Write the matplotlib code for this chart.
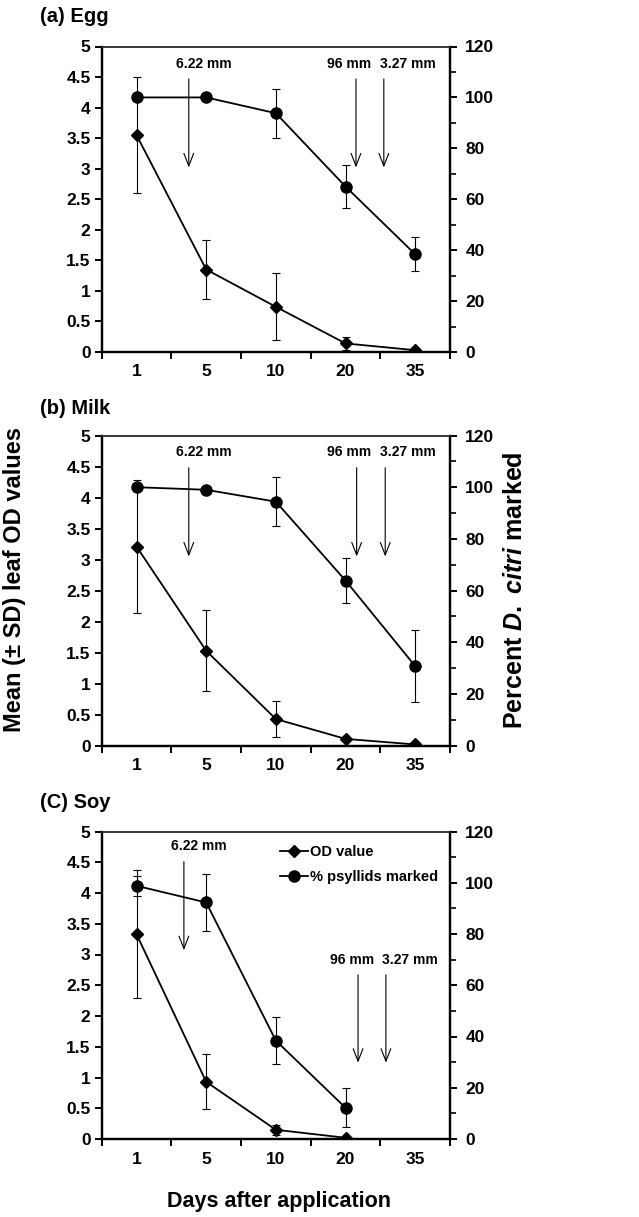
import numpy as np
import matplotlib
matplotlib.use("Agg")
import matplotlib.pyplot as plt
from matplotlib.ticker import MultipleLocator, FixedLocator

plt.rcParams['font.family'] = ['Liberation Sans', 'DejaVu Sans']
plt.rcParams['font.weight'] = 'bold'
plt.rcParams['mathtext.fontset'] = 'custom'
plt.rcParams['mathtext.it'] = 'Liberation Sans:bold:italic'
plt.rcParams['mathtext.rm'] = 'Liberation Sans:bold'
plt.rcParams['mathtext.bf'] = 'Liberation Sans:bold'

# ---------------- data ----------------
days = ['1', '5', '10', '20', '35']

egg_od = [3.55, 1.35, 0.74, 0.14, 0.03]
egg_od_sd = [0.95, 0.49, 0.55, 0.10, 0.0]
egg_pct = [100, 100, 93.8, 65.0, 38.4]
egg_pct_sd = [0, 0, 9.6, 8.4, 6.6]

milk_od = [3.21, 1.53, 0.43, 0.11, 0.02]
milk_od_sd = [1.07, 0.65, 0.29, 0.03, 0.0]
milk_pct = [100, 99.0, 94.4, 63.9, 30.8]
milk_pct_sd = [0, 0, 9.5, 8.6, 13.8]

soy_od = [3.33, 0.93, 0.15, 0.02, np.nan]
soy_od_sd = [1.04, 0.45, 0.08, 0.0, np.nan]
soy_pct = [98.8, 92.3, 38.4, 12.2, np.nan]
soy_pct_sd = [3.9, 11.1, 9.2, 7.6, np.nan]

panel_titles = ['(a) Egg', '(b) Milk', '(C) Soy']
arrow_labels = ['6.22 mm', '96 mm', '3.27 mm']

panels = [
    (egg_od, egg_od_sd, egg_pct, egg_pct_sd),
    (milk_od, milk_od_sd, milk_pct, milk_pct_sd),
    (soy_od, soy_od_sd, soy_pct, soy_pct_sd),
]

# layout (figure fractions)
W, H = 639, 1217
fig = plt.figure(figsize=(W / 100, H / 100), dpi=100)
left = 101.7 / W
width = 348.3 / W
rects = [  # (top_px, bottom_px)
    (46.5, 352.0),
    (435.5, 745.7),
    (831.5, 1139.0),
]
title_y = [17, 408, 802]

# arrow layout per panel: (x, label_x, label_y, y_top, y_bottom)
arrow_layout = [
    [(1.75, 1.97, 4.72, 4.47, 3.02), (4.15, 4.05, 4.72, 4.47, 3.02), (4.55, 4.90, 4.72, 4.47, 3.02)],
    [(1.75, 1.97, 4.73, 4.48, 3.05), (4.16, 4.05, 4.73, 4.48, 3.05), (4.57, 4.90, 4.73, 4.48, 3.05)],
    [(1.68, 1.90, 4.76, 4.51, 3.07), (4.18, 4.09, 2.91, 2.67, 1.24), (4.58, 4.93, 2.91, 2.67, 1.24)],
]

x = np.arange(1, len(days) + 1)
tick_fs = 12.5
lw = 1.3
ms_d = 6
ms_o = 8

for i, (od, od_sd, pct, pct_sd) in enumerate(panels):
    top_px, bot_px = rects[i]
    ax = fig.add_axes([left, 1 - bot_px / H, width, (bot_px - top_px) / H])
    ax2 = ax.twinx()

    ax.errorbar(x, od, yerr=od_sd, color='black', lw=lw, marker='D', ms=ms_d,
                ecolor='black', elinewidth=0.8, capsize=3, capthick=0.8,
                label='OD value', zorder=3)
    ax2.errorbar(x, pct, yerr=pct_sd, color='black', lw=lw, marker='o', ms=ms_o,
                 ecolor='black', elinewidth=0.8, capsize=3, capthick=0.8,
                 label='% psyllids marked', zorder=3)

    ax.set_xlim(0.5, len(days) + 0.5)
    ax.set_ylim(0, 5)
    ax2.set_ylim(0, 120)

    ax.set_xticks(x)
    ax.set_xticklabels(days, fontsize=tick_fs, fontweight='bold')
    ax.xaxis.set_minor_locator(FixedLocator(np.arange(0.5, len(days) + 1, 1.0)))
    ax.tick_params(axis='x', which='major', length=0, pad=9)
    ax.tick_params(axis='x', which='minor', length=5, width=1.4, direction='out')

    ax.yaxis.set_major_locator(MultipleLocator(0.5))
    ax.set_yticklabels([f'{v:g}' for v in ax.get_yticks()], fontsize=tick_fs, fontweight='bold')
    ax.tick_params(axis='y', which='major', length=5, width=1.4, direction='out', pad=3)

    ax2.yaxis.set_major_locator(MultipleLocator(20))
    ax2.yaxis.set_minor_locator(MultipleLocator(10))
    ax2.set_yticklabels([f'{v:g}' for v in ax2.get_yticks()], fontsize=tick_fs, fontweight='bold')
    ax2.tick_params(axis='y', which='major', length=5, width=1.4, direction='out', pad=6)
    ax2.tick_params(axis='y', which='minor', length=4, width=1.2, direction='out')

    for a in (ax, ax2):
        for s in ('left', 'bottom', 'right'):
            a.spines[s].set_linewidth(1.6)
            a.spines[s].set_color('black')
        a.spines['top'].set_linewidth(1.1)
        a.spines['top'].set_color('#333333')

    for (ax_x, lx, ly, yt, yb), lab in zip(arrow_layout[i], arrow_labels):
        ax.annotate('', xy=(ax_x, yb), xytext=(ax_x, yt),
                    arrowprops=dict(arrowstyle='->,head_length=0.9,head_width=0.35',
                                    color='black', lw=0.8, shrinkA=0, shrinkB=0))
        ax.text(lx, ly, lab, ha='center', va='center', fontsize=10, fontweight='bold')

    fig.text(40 / W, 1 - title_y[i] / H, panel_titles[i], ha='left', va='center',
             fontsize=14.5, fontweight='bold')

    if i == 2:
        h1, = ax.plot([], [], color='black', lw=lw, marker='D', ms=ms_d)
        h2, = ax.plot([], [], color='black', lw=lw, marker='o', ms=ms_o)
        ax2.legend([h1, h2], ['OD value', '% psyllids marked'], loc='upper left',
                   bbox_to_anchor=(0.512, 0.957), frameon=False,
                   prop=dict(size=10.5, weight='bold'), handlelength=1.9,
                   handletextpad=0.15, labelspacing=0.75, borderpad=0,
                   borderaxespad=0)

fig.text(15 / W, 1 - 580 / H, 'Mean (± SD) leaf OD values', rotation=90,
         ha='center', va='center', fontsize=17, fontweight='bold')
fig.text(515 / W, 1 - 590 / H, r'Percent $\it{D.\ citri}$ marked', rotation=90,
         ha='center', va='center', fontsize=18, fontweight='bold')
fig.text(279 / W, 1 - 1202 / H, 'Days after application', ha='center', va='center',
         fontsize=15.5, fontweight='bold')

fig.savefig('out.png', dpi=100)
